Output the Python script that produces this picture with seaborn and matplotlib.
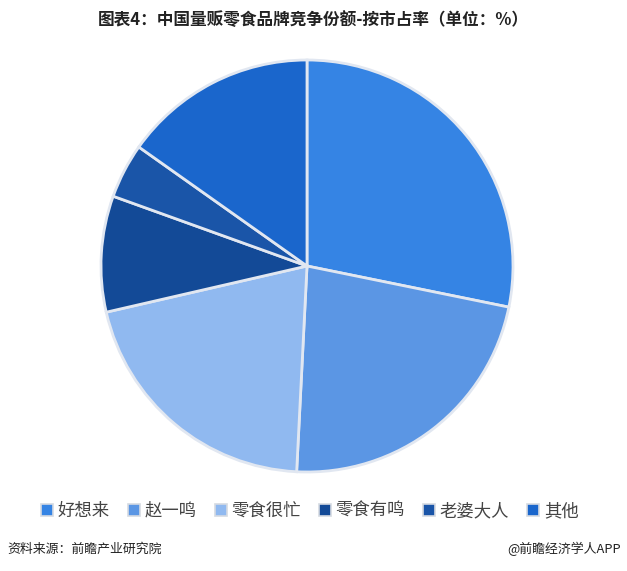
import matplotlib
matplotlib.use("Agg")
import matplotlib.pyplot as plt
from matplotlib.patches import Patch
import seaborn as sns

brands = ["好想来", "赵一鸣", "零食很忙", "零食有鸣", "老婆大人", "其他"]
shares = [28.2, 22.6, 20.6, 9.1, 4.3, 15.2]
colors = ["#3584E4", "#5B96E4", "#90B9F0", "#134A97", "#1A55A8", "#1A66CC"]

title = "图表4：中国量贩零食品牌竞争份额-按市占率（单位：%）"
source = "资料来源：前瞻产业研究院"
credit = "@前瞻经济学人APP"

sns.set_theme(style="white")
plt.rcParams['font.family'] = ['Noto Sans CJK SC', 'DejaVu Sans']

palette = sns.color_palette(colors)

fig = plt.figure(figsize=(6.27, 5.71), dpi=100)
ax = fig.add_axes([(307 - 206) / 627, (571 - 472) / 571, 412 / 627, 412 / 571])
ax.pie(shares, colors=palette, startangle=90, counterclock=False,
       wedgeprops={'edgecolor': '#E1E7F1', 'linewidth': 2})
ax.set_xlim(-1, 1)
ax.set_ylim(-1, 1)
ax.axis("off")

fig.text(0.5, 1 - 20 / 571, title, ha="center", va="center",
         fontsize=12, fontweight="bold", color="#222222")

handles = [Patch(facecolor=c, edgecolor="#D5DAE2", linewidth=1.2) for c in palette]
fig.legend(handles, brands, loc="center", bbox_to_anchor=(0.494, 1 - 511 / 571),
           ncol=6, frameon=False, fontsize=12.5, handlelength=0.7,
           handleheight=0.7, handletextpad=0.25, columnspacing=1.05,
           labelcolor="#444444")

fig.text(7 / 627, 1 - 549 / 571, source, ha="left", va="center",
         fontsize=9.3, color="#222222")
fig.text(621 / 627, 1 - 549 / 571, credit, ha="right", va="center",
         fontsize=9.3, color="#222222")

fig.savefig("out.png", dpi=100, facecolor="white")
